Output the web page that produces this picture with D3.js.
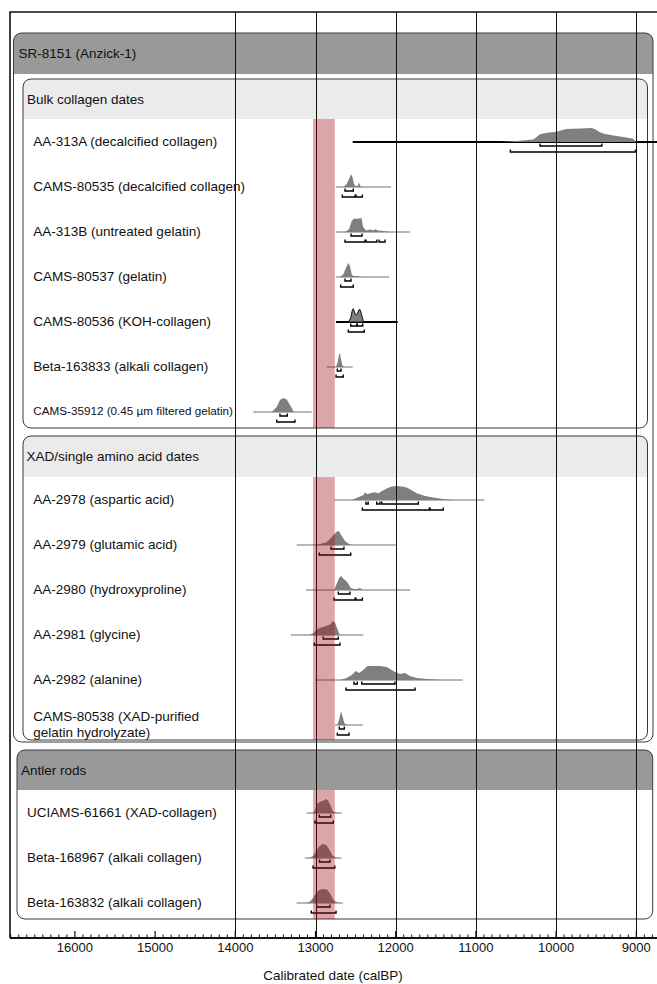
<!DOCTYPE html>
<html>
<head>
<meta charset="utf-8">
<script src="https://cdn.jsdelivr.net/npm/d3@7"></script>
<style>
  html, body { margin: 0; padding: 0; background: #fff; }
  svg { display: block; font-family: "Liberation Sans", Arial, Helvetica, sans-serif; }
</style>
</head>
<body>
<svg id="chart" width="657" height="984"></svg>
<script>
// ---- Data ---------------------------------------------------------------
const groupTitles = ["SR-8151 (Anzick-1)", "Antler rods"];
const sectionTitles = ["Bulk collagen dates", "XAD/single amino acid dates", null];

const sampleLabels = [
  "AA-313A (decalcified collagen)",
  "CAMS-80535 (decalcified collagen)",
  "AA-313B (untreated gelatin)",
  "CAMS-80537 (gelatin)",
  "CAMS-80536 (KOH-collagen)",
  "Beta-163833 (alkali collagen)",
  "CAMS-35912 (0.45 µm filtered gelatin)",
  "AA-2978 (aspartic acid)",
  "AA-2979 (glutamic acid)",
  "AA-2980 (hydroxyproline)",
  "AA-2981 (glycine)",
  "AA-2982 (alanine)",
  "CAMS-80538 (XAD-purified\ngelatin hydrolyzate)",
  "UCIAMS-61661 (XAD-collagen)",
  "Beta-168967 (alkali collagen)",
  "Beta-163832 (alkali collagen)"
];
// section each sample belongs to (0 bulk, 1 XAD, 2 antler)
const sampleSection = [0, 0, 0, 0, 0, 0, 0, 1, 1, 1, 1, 1, 1, 2, 2, 2];

// calendar span of each calibrated distribution's base line (calBP)
const sampleSpan = [
  [12536, 8500], [12748, 12059], [12748, 11822], [12748, 12084],
  [12744, 11975], [12860, 12536], [13776, 13047], [12769, 10895],
  [13234, 12000], [13118, 11822], [13305, 12404], [12998, 11165],
  [12757, 12411], [13110, 12673], [13131, 12677], [13236, 12661]
];

// calibrated probability (relative) : [calBP, density]
const sampleDensity = [
  [[10700,0],[10491,0.07],[10284,0.17],[10242,0.35],[10201,0.56],[10117,0.66],[9993,0.73],[9930,0.84],[9868,0.93],[9701,0.96],[9556,1.0],[9515,0.91],[9453,0.70],[9390,0.58],[9287,0.47],[9162,0.35],[9037,0.23],[9004,0]],
  [[12653,0],[12611,0.22],[12582,0.58],[12557,0.93],[12536,0.65],[12520,0.22],[12499,0.07],[12474,0.07],[12458,0.32],[12441,0.07],[12424,0]],
  [[12632,0],[12582,0.2],[12551,0.75],[12526,0.95],[12470,0.95],[12426,1.0],[12408,0.4],[12383,0.17],[12358,0.1],[12320,0.2],[12283,0.1],[12258,0.2],[12221,0.1],[12158,0.07],[12108,0.03],[12071,0]],
  [[12695,0],[12653,0.2],[12623,0.62],[12591,1.0],[12570,0.78],[12549,0.2],[12529,0.07],[12466,0.05],[12424,0]],
  [[12591,0],[12561,0.28],[12541,0.85],[12529,0.95],[12504,0.57],[12486,0.5],[12461,0.85],[12445,0.9],[12424,0.5],[12404,0.07],[12392,0]],
  [[12744,0],[12723,0.35],[12707,0.85],[12698,1.0],[12682,0.57],[12666,0.14],[12645,0]],
  [[13546,0],[13484,0.35],[13443,0.85],[13401,1.0],[13359,0.9],[13318,0.5],[13277,0.07],[13256,0]],
  [[12549,0],[12466,0.2],[12404,0.34],[12383,0.55],[12354,0.41],[12320,0.48],[12258,0.55],[12217,0.48],[12175,0.62],[12112,0.83],[12050,0.97],[11988,1.0],[11925,0.97],[11863,0.9],[11800,0.69],[11738,0.48],[11697,0.41],[11635,0.28],[11531,0.17],[11407,0.07],[11282,0]],
  [[13027,0],[12944,0.07],[12860,0.2],[12819,0.42],[12778,0.7],[12736,0.95],[12707,1.0],[12673,0.65],[12632,0.28],[12591,0.1],[12549,0]],
  [[12766,0],[12736,0.45],[12703,0.88],[12678,1.0],[12653,0.8],[12620,0.66],[12591,0.45],[12561,0.15],[12520,0.07],[12479,0.07],[12445,0.15],[12411,0]],
  [[13077,0],[13027,0.15],[12985,0.37],[12944,0.52],[12882,0.6],[12819,0.75],[12778,1.0],[12757,0.9],[12728,0.45],[12703,0.07],[12686,0]],
  [[12695,0],[12611,0.14],[12549,0.36],[12495,0.64],[12454,0.5],[12404,0.71],[12354,1.0],[12279,1.0],[12196,1.0],[12112,0.93],[12050,0.71],[12009,0.57],[11946,0.43],[11884,0.5],[11822,0.29],[11738,0.14],[11613,0.07],[11407,0]],
  [[12728,0],[12703,0.43],[12682,1.0],[12661,0.57],[12641,0.14],[12620,0.04],[12591,0]],
  [[13027,0],[13006,0.22],[12978,0.65],[12944,0.8],[12903,0.87],[12869,1.0],[12840,0.87],[12810,0.5],[12786,0.15],[12757,0.05],[12716,0]],
  [[13081,0],[13031,0.15],[12994,0.5],[12956,0.8],[12913,1.0],[12869,0.95],[12832,0.65],[12794,0.22],[12757,0.07],[12719,0]],
  [[13118,0],[13069,0.1],[13031,0.35],[12994,0.7],[12956,0.93],[12906,1.0],[12857,0.97],[12819,0.7],[12782,0.28],[12744,0.07],[12695,0]]
];

// 68.2% highest posterior density ranges (calBP)
const range68 = [
  [[10200, 9430]],
  [[12632, 12529]],
  [[12557, 12420]],
  [[12632, 12557]],
  [[12561, 12486], [12479, 12411]],
  [[12728, 12682]],
  [[13443, 13352]],
  [[12371, 12343], [12237, 12196], [12175, 11718]],
  [[12807, 12645]],
  [[12716, 12570]],
  [[12903, 12716]],
  [[12520, 12479], [12424, 12009]],
  [[12703, 12641]],
  [[12953, 12810]],
  [[12950, 12820]],
  [[12985, 12819]]
];

// 95.4% highest posterior density ranges (calBP)
const range95 = [
  [[10570, 9010]],
  [[12666, 12507], [12495, 12416]],
  [[12632, 12383], [12370, 12235], [12208, 12133]],
  [[12686, 12529]],
  [[12591, 12392]],
  [[12744, 12653]],
  [[13484, 13256]],
  [[12416, 11581], [11572, 11407]],
  [[12953, 12561]],
  [[12769, 12507], [12495, 12416]],
  [[13015, 12695]],
  [[12620, 11759]],
  [[12728, 12582]],
  [[13006, 12778]],
  [[13030, 12760]],
  [[13052, 12744]]
];

// Clovis age span highlighted across all samples (calBP)
const clovisSpan = [13030, 12760];

// axis ticks (calBP)
const majorTicks = [16000, 15000, 14000, 13000, 12000, 11000, 10000, 9000];
const gridTicks = [14000, 13000, 12000, 11000, 10000, 9000];
const minorTicks = d3.range(16800, 8500, -100);

// ---- Layout -------------------------------------------------------------
const svg = d3.select("#chart");
const W = 657;
const x = d3.scaleLinear().domain([13000, 9000]).range([315.5, 636.3]);
const h = d3.scaleLinear().domain([0, 1]).range([0, 14]);

const frame = { left: 10, top: 12, axisY: 938, right: 720 };
const rowStep = 45;

// group boxes (with dark header) and section boxes (light header)
const groupBoxes = [
  { title: groupTitles[0], x0: 13.5, x1: 653, y0: 33, y1: 742, headH: 41, tx: 18.5 },
  { title: groupTitles[1], x0: 17, x1: 652.7, y0: 750, y1: 919, headH: 40, tx: 21 }
];
const sectionBoxes = [
  { title: sectionTitles[0], x0: 23, x1: 647.5, y0: 79, y1: 428, headH: 40, tx: 27 },
  { title: sectionTitles[1], x0: 23, x1: 647.5, y0: 436, y1: 740, headH: 41, tx: 26.5 }
];
// body areas where samples are stacked
const bodies = [
  { top: 119, bottom: 428, labelX: 33.3 },
  { top: 477, bottom: 740, labelX: 33.3 },
  { top: 790, bottom: 919, labelX: 27 }
];

const FONT = 13.5;
const gBoxes = svg.append("g");
const gLabels = svg.append("g");
const gDist = svg.append("g");
const gGrid = svg.append("g");
const gBand = svg.append("g");
const gAxis = svg.append("g");

const defs = svg.append("defs");

function drawBox(b, i, headFill, kind) {
  const id = `clip-${kind}-${i}`;
  defs.append("clipPath").attr("id", id)
    .append("rect")
    .attr("x", b.x0).attr("y", b.y0)
    .attr("width", b.x1 - b.x0).attr("height", b.y1 - b.y0)
    .attr("rx", 8).attr("ry", 8);
  gBoxes.append("rect")
    .attr("x", b.x0).attr("y", b.y0)
    .attr("width", b.x1 - b.x0).attr("height", b.y1 - b.y0)
    .attr("rx", 8).attr("ry", 8)
    .attr("fill", "#fff");
  gBoxes.append("rect")
    .attr("clip-path", `url(#${id})`)
    .attr("x", b.x0).attr("y", b.y0)
    .attr("width", b.x1 - b.x0).attr("height", b.headH)
    .attr("fill", headFill);
  gBoxes.append("rect")
    .attr("x", b.x0).attr("y", b.y0)
    .attr("width", b.x1 - b.x0).attr("height", b.y1 - b.y0)
    .attr("rx", 8).attr("ry", 8)
    .attr("fill", "none")
    .attr("stroke", "#3a3a3a").attr("stroke-width", 1);
  gBoxes.append("text")
    .attr("x", b.tx).attr("y", b.y0 + b.headH / 2)
    .attr("dy", "0.35em")
    .attr("font-size", FONT)
    .attr("fill", "#111")
    .text(b.title);
}

groupBoxes.forEach((b, i) => drawBox(b, i, "#999999", "g"));
sectionBoxes.forEach((b, i) => drawBox(b, i, "#ebebeb", "s"));

// row position within its section
const rowIndex = sampleSection.map((s, i) => sampleSection.slice(0, i).filter(v => v === s).length);
const rowY = sampleSection.map((s, i) => bodies[s].top + 22 + rowStep * rowIndex[i]);

// sample labels
sampleLabels.forEach((label, i) => {
  const lines = label.split("\n");
  const t = gLabels.append("text")
    .attr("x", bodies[sampleSection[i]].labelX)
    .attr("y", rowY[i])
    .attr("font-size", label.startsWith("CAMS-35912") ? 11.7 : FONT)
    .attr("fill", "#111");
  lines.forEach((ln, k) => {
    t.append("tspan")
      .attr("x", bodies[sampleSection[i]].labelX)
      .attr("dy", k === 0 ? `${0.35 - (lines.length - 1) * 0.6}em` : "1.2em")
      .text(ln);
  });
});

// calibrated distributions
const boldRows = new Set([0, 4]);
const area = d3.area().curve(d3.curveLinear);
sampleDensity.forEach((dens, i) => {
  const base = rowY[i] + 1;
  const bold = boldRows.has(i);
  gDist.append("line")
    .attr("x1", x(sampleSpan[i][0])).attr("x2", x(sampleSpan[i][1]))
    .attr("y1", base).attr("y2", base)
    .attr("stroke", bold ? "#000" : "#707070")
    .attr("stroke-width", bold ? 1.8 : 1);
  gDist.append("path")
    .datum(dens)
    .attr("d", area.x(d => x(d[0])).y0(base).y1(d => base - h(d[1])))
    .attr("fill", "#7f7f7f")
    .attr("stroke", i === 4 ? "#000" : "none")
    .attr("stroke-width", 0.9);

  const bracket = (ranges, yy) => {
    ranges.forEach(r => {
      const a = x(r[0]), b = x(r[1]);
      gDist.append("path")
        .attr("d", `M${a},${yy - 2.5}V${yy}H${b}V${yy - 2.5}`)
        .attr("fill", "none")
        .attr("stroke", "#000")
        .attr("stroke-width", 1.4);
    });
  };
  bracket(range68[i], base + 4);
  bracket(range95[i], base + 10);
});

// vertical grid lines
gGrid.selectAll("line").data(gridTicks).join("line")
  .attr("x1", d => Math.round(x(d)) + 0.5).attr("x2", d => Math.round(x(d)) + 0.5)
  .attr("y1", frame.top).attr("y2", frame.axisY)
  .attr("stroke", "#111").attr("stroke-width", 1);

// highlighted age span, shown in each section body
bodies.forEach(b => {
  gBand.append("rect")
    .attr("x", x(clovisSpan[0]))
    .attr("width", x(clovisSpan[1]) - x(clovisSpan[0]))
    .attr("y", b.top).attr("height", b.bottom - b.top)
    .attr("fill", "rgb(160,12,25)")
    .attr("fill-opacity", 0.37);
});

// outer frame
gAxis.append("path")
  .attr("d", `M${frame.right},${frame.top}H${frame.left}V${frame.axisY}`)
  .attr("fill", "none").attr("stroke", "#111").attr("stroke-width", 1.6);

// bottom axis
const axis = gAxis.append("g").attr("transform", `translate(0,${frame.axisY})`);
axis.append("line")
  .attr("x1", frame.left).attr("x2", frame.right)
  .attr("stroke", "#111").attr("stroke-width", 2);
axis.selectAll("line.minor").data(minorTicks.filter(t => t % 1000 !== 0)).join("line")
  .attr("class", "minor")
  .attr("x1", d => x(d)).attr("x2", d => x(d))
  .attr("y1", 0).attr("y2", -3.5)
  .attr("stroke", "#111").attr("stroke-width", 1);
axis.selectAll("line.major").data(majorTicks).join("line")
  .attr("class", "major")
  .attr("x1", d => x(d)).attr("x2", d => x(d))
  .attr("y1", 0).attr("y2", -7)
  .attr("stroke", "#111").attr("stroke-width", 1.2);
axis.selectAll("text").data(majorTicks).join("text")
  .attr("x", d => x(d)).attr("y", 9)
  .attr("dy", "0.35em")
  .attr("text-anchor", "middle")
  .attr("font-size", 13)
  .attr("fill", "#111")
  .text(d => d);

svg.append("text")
  .attr("x", 333).attr("y", 975)
  .attr("dy", "0.35em")
  .attr("text-anchor", "middle")
  .attr("font-size", FONT)
  .attr("fill", "#111")
  .text("Calibrated date (calBP)");
</script>
</body>
</html>
